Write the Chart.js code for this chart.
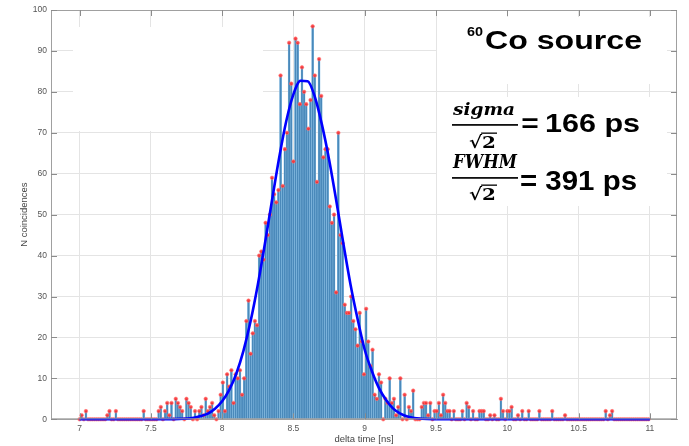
<!DOCTYPE html>
<html><head><meta charset="utf-8">
<script src="https://cdn.jsdelivr.net/npm/chart.js@4.4.1/dist/chart.umd.min.js"></script>
<style>html,body{margin:0;padding:0;background:#fff}canvas{display:block}</style>
</head><body>
<canvas id="c" width="689" height="446"></canvas>
<script>
// ---- data ----
const BIN_START = 7.0;      // centre of first bin [ns]
const BIN_WIDTH = 0.015;    // bin width [ns]
const counts = [
  0,1,0,2,0,0,0,0,0,0,
  0,0,0,1,2,0,0,2,0,0,
  0,0,0,0,0,0,0,0,0,0,
  2,0,0,0,0,0,0,2,3,0,
  2,4,1,4,0,5,4,3,2,0,
  5,4,3,0,2,0,2,
  3,1,5,2,3,4,1,0,2,6,
  9,2,11,8,12,4,11,10,12,6,
  10,24,29,16,21,24,23,40,41,39,
  48,45,50,59,55,53,56,84,57,66,
  70,92,82,63,93,92,77,
  86,80,77,71,78,96,84,58,88,79,
  64,66,66,52,48,50,31,70,45,43,
  28,26,26,30,24,22,18,26,19,11,
  27,19,13,17,6,5,11,9,0,5,
  4,10,4,
  5,1,3,10,0,6,0,3,2,7,
  0,0,0,3,4,4,1,4,0,2,
  2,4,1,6,4,2,2,0,2,0,
  0,0,2,0,4,3,0,2,0,0,
  2,2,2,0,0,1,0,1,0,0,
  5,2,0,2,2,3,0,0,1,0,
  2,0,0,2,0,0,0,0,2,0,
  0,0,0,0,2,0,0,0,0,0,
  1,0,0,0,0,0,0,0,0,0,
  0,0,0,0,0,0,0,0,0,2,
  0,1,2,0,0,0,0,0,0,0,
  0,0,0,0,0,0,0,0,0,0
];
const binCenters = counts.map((_, i) => +(BIN_START + i * BIN_WIDTH).toFixed(3));

// fitted curve
const fitX = [7.0, 7.5, 7.7, 7.8, 7.85, 7.9, 7.95, 8.0, 8.05, 8.1, 8.15, 8.2, 8.25, 8.3, 8.35, 8.4, 8.45, 8.5, 8.55, 8.6, 8.65, 8.7, 8.75, 8.8, 8.85, 8.9, 8.95, 9.0, 9.05, 9.1, 9.15, 9.2, 9.25, 9.3, 9.4, 9.6, 11.0];
const fitY = [0, 0, 0.1, 0.4, 0.8, 1.4, 2.6, 4.4, 7.2, 11.2, 16.8, 24, 32.8, 42.9, 53.5, 63.9, 72.9, 79.4, 82.7, 82.6, 78.8, 72, 63.5, 53.5, 43, 33, 24.5, 17, 11.8, 7.6, 4.7, 2.6, 1.4, 0.7, 0.15, 0, 0];

const xTickValues = [7, 7.5, 8, 8.5, 9, 9.5, 10, 10.5, 11];
const yTickValues = [0, 10, 20, 30, 40, 50, 60, 70, 80, 90, 100];

const xTitle = 'delta time [ns]';
const yTitle = 'N coincidences';
const sourceLabel = ['60', 'Co source'];
const sigmaText = ['sigma', '√2', '166 ps'];
const fwhmText = ['FWHM', '√2', '= 391 ps'];

// ---- helpers ----
function fitText(ctx, text, font, x, y, w, color) {
  ctx.font = font;
  const m = ctx.measureText(text).width;
  ctx.save();
  ctx.translate(x, y);
  ctx.scale(w / m, 1);
  ctx.fillStyle = color || '#000';
  ctx.textAlign = 'left';
  ctx.textBaseline = 'alphabetic';
  ctx.fillText(text, 0, 0);
  ctx.restore();
}
function radical(ctx, x, baseY, w) {
  ctx.font = 'bold 17px "DejaVu Serif"';
  const mr = ctx.measureText('√').width;
  const m2 = ctx.measureText('2').width;
  const s = w / (mr + m2);
  ctx.save();
  ctx.translate(x, baseY);
  ctx.scale(s, 1);
  ctx.fillStyle = '#000';
  ctx.fillText('√', 0, 0);
  ctx.fillText('2', mr, 0);
  ctx.restore();
  ctx.fillStyle = '#000';
  ctx.fillRect(x + mr * s - 1, baseY - 15.5, m2 * s + 2, 1.3);
}

const decor = {
  id: 'decor',
  beforeDatasetsDraw(chart) {
    const {ctx} = chart;
    ctx.save();
    ctx.fillStyle = '#fff';
    // white boxes from the original figure's overlays
    ctx.fillRect(73, 27, 190, 104);
    ctx.fillRect(437, 17, 230, 67);
    ctx.fillRect(437, 97, 230, 109);
    ctx.restore();
  },
  afterDraw(chart) {
    const {ctx, chartArea: a, scales: {x, y}} = chart;
    ctx.save();
    ctx.strokeStyle = '#a0a0a0';
    ctx.lineWidth = 1;
    ctx.strokeRect(a.left + 0.5, a.top + 0.5, a.right - a.left - 1, a.bottom - a.top - 1);
    ctx.strokeStyle = '#8c8c8c';
    ctx.beginPath();
    xTickValues.forEach(v => {
      const px = Math.round(x.getPixelForValue(v)) + 0.5;
      ctx.moveTo(px, a.top); ctx.lineTo(px, a.top + 6);
      ctx.moveTo(px, a.bottom); ctx.lineTo(px, a.bottom - 6);
    });
    yTickValues.forEach(v => {
      const py = Math.round(y.getPixelForValue(v)) + 0.5;
      ctx.moveTo(a.left, py); ctx.lineTo(a.left + 6, py);
      ctx.moveTo(a.right, py); ctx.lineTo(a.right - 6, py);
    });
    ctx.stroke();

    fitText(ctx, sourceLabel[0], 'bold 13px "Liberation Sans"', 467, 36, 16);
    fitText(ctx, sourceLabel[1], 'bold 26px "Liberation Sans"', 485, 48.5, 157);

    fitText(ctx, sigmaText[0], 'bold italic 17px "DejaVu Serif"', 453, 115, 62);
    ctx.fillStyle = '#111';
    ctx.fillRect(452, 124, 66, 1.8);
    radical(ctx, 469, 148, 27);
    fitText(ctx, '=', '34px "DejaVu Serif"', 520, 134, 20);
    fitText(ctx, sigmaText[2], 'bold 26px "Liberation Sans"', 545, 131.7, 95);

    fitText(ctx, fwhmText[0], 'bold italic 18px "DejaVu Serif"', 453, 168, 64);
    ctx.fillStyle = '#111';
    ctx.fillRect(452, 177, 66, 1.8);
    radical(ctx, 469, 200, 27);
    fitText(ctx, fwhmText[2], 'bold 27px "Liberation Sans"', 520, 190, 117);
    ctx.restore();
  }
};

const ctx = document.getElementById('c').getContext('2d');
new Chart(ctx, {
  type: 'bar',
  data: {
    datasets: [
      {
        type: 'line',
        label: 'fit',
        data: fitX.map((v, i) => ({x: v, y: fitY[i]})),
        borderColor: '#0000ff',
        borderWidth: 2.6,
        pointRadius: 0,
        cubicInterpolationMode: 'monotone',
        fill: false,
        clip: false,
        order: 1
      },
      {
        type: 'line',
        label: 'tops',
        data: binCenters.map((v, i) => ({x: v, y: counts[i]})),
        showLine: false,
        pointRadius: 1.8,
        pointBackgroundColor: 'rgba(255,40,40,0.85)',
        pointBorderColor: 'rgba(255,120,120,0.55)',
        pointBorderWidth: 1,
        clip: false,
        order: 2
      },
      {
        type: 'bar',
        label: 'counts',
        data: binCenters.map((v, i) => ({x: v, y: counts[i]})),
        backgroundColor: '#4a89ba',
        borderColor: '#8cc2e8',
        borderWidth: 0.5,
        barPercentage: 1.0,
        categoryPercentage: 1.0,
        order: 3
      }
    ]
  },
  options: {
    responsive: false,
    animation: false,
    layout: {padding: {left: 0, right: 12, top: 10, bottom: 0}},
    plugins: {legend: {display: false}, tooltip: {enabled: false}},
    scales: {
      x: {
        type: 'linear',
        offset: false,
        min: 6.8,
        max: 11.19,
        afterBuildTicks: s => { s.ticks = xTickValues.map(v => ({value: v})); },
        afterFit: s => { s.height = 26.7; },
        grid: {color: '#e4e4e4', drawTicks: false, lineWidth: 1, offset: false},
        border: {display: true, color: '#a0a0a0'},
        ticks: {padding: 4, color: '#555', font: {family: 'Liberation Sans', size: 8.5}, maxRotation: 0,
                callback: v => String(v)},
        title: {display: true, text: xTitle, color: '#444', font: {family: 'Liberation Sans', size: 9.5},
                padding: {top: 0, bottom: 1}}
      },
      y: {
        type: 'linear',
        min: 0,
        max: 100,
        afterBuildTicks: s => { s.ticks = yTickValues.map(v => ({value: v})); },
        afterFit: s => { s.width = 51; },
        grid: {color: '#e4e4e4', drawTicks: false, lineWidth: 1},
        border: {display: true, color: '#a0a0a0'},
        ticks: {padding: 4, color: '#555', font: {family: 'Liberation Sans', size: 8.5}},
        title: {display: true, text: yTitle, color: '#444', font: {family: 'Liberation Sans', size: 9.5},
                padding: {top: 19, bottom: 0}}
      }
    }
  },
  plugins: [decor]
});
</script>
</body></html>
